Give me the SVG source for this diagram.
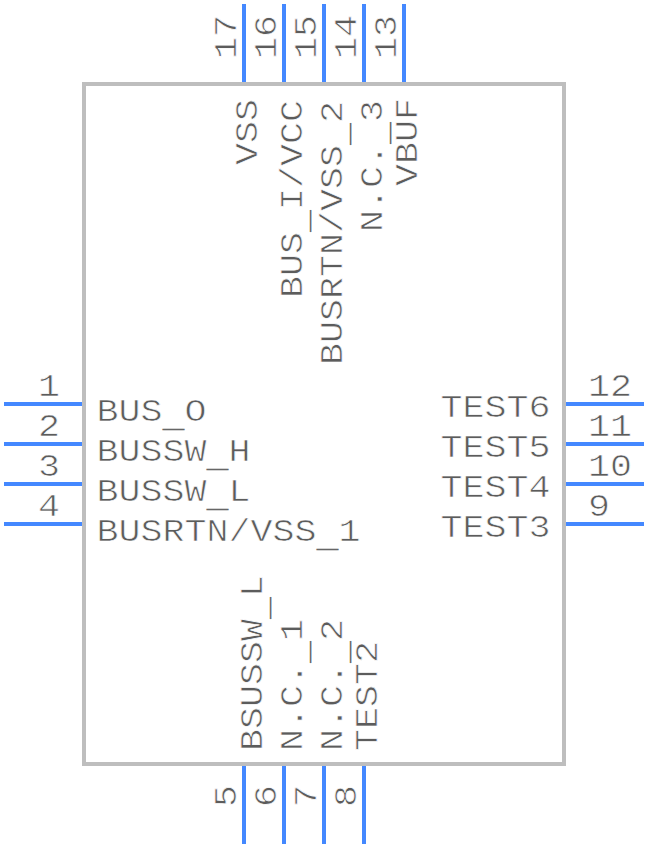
<svg xmlns="http://www.w3.org/2000/svg" width="648" height="848" viewBox="0 0 648 848">
<style>
text{font-family:"Liberation Mono",monospace;font-size:36.67px;fill:#5c5c5c;stroke:#fff;stroke-width:.75px}
.u{stroke:none;fill:#666}
.p{stroke:#4488ff;stroke-width:4;fill:none}
</style>
<rect width="648" height="848" fill="#fff"/>
<g id="body"><rect x="84" y="84" width="480" height="680" fill="#fff" stroke="#bebebe" stroke-width="4"/></g>
<g id="connectors">
<path class="p" d="M4 404H82M4 444H82M4 484H82M4 524H82M566 404H644M566 444H644M566 484H644M566 524H644M244 4V82M284 4V82M324 4V82M364 4V82M404 4V82M244 766V844M284 766V844M324 766V844M364 766V844"/>
</g>
<g id="left-pins">
<text transform="translate(38 396) scale(1 .85)">1</text><text transform="translate(38 436) scale(1 .85)">2</text><text transform="translate(38 476) scale(1 .85)">3</text><text transform="translate(38 516) scale(1 .85)">4</text>
<text transform="translate(96.5 421) scale(1 .83)">BUS<tspan class="u" dy="7">_</tspan><tspan dy="-7">O</tspan></text><text transform="translate(96.5 461) scale(1 .83)">BUSSW<tspan class="u" dy="7">_</tspan><tspan dy="-7">H</tspan></text><text transform="translate(96.5 501) scale(1 .83)">BUSSW<tspan class="u" dy="7">_</tspan><tspan dy="-7">L</tspan></text><text transform="translate(96.5 541) scale(1 .83)">BUSRTN/VSS<tspan class="u" dy="7">_</tspan><tspan dy="-7">1</tspan></text>
</g>
<g id="right-pins">
<text transform="translate(588 396) scale(1 .85)">12</text><text transform="translate(588 436) scale(1 .85)">11</text><text transform="translate(588 476) scale(1 .85)">10</text><text transform="translate(588 516) scale(1 .85)">9</text>
<text transform="translate(440.5 417) scale(1 .83)">TEST6</text><text transform="translate(440.5 457) scale(1 .83)">TEST5</text><text transform="translate(440.5 497) scale(1 .83)">TEST4</text><text transform="translate(440.5 537) scale(1 .83)">TEST3</text>
</g>
<g id="top-pins">
<text transform="translate(236 59) rotate(-90) scale(1 .85)">17</text><text transform="translate(276 59) rotate(-90) scale(1 .85)">16</text><text transform="translate(316 59) rotate(-90) scale(1 .85)">15</text><text transform="translate(356 59) rotate(-90) scale(1 .85)">14</text><text transform="translate(396 59) rotate(-90) scale(1 .85)">13</text>
<text transform="translate(257 165) rotate(-90) scale(1 .83)">VSS</text><text transform="translate(302 298) rotate(-90) scale(1 .83)">BUS<tspan class="u" dy="7">_</tspan><tspan dy="-7">I/VCC</tspan></text><text transform="translate(342 365) rotate(-90) scale(1 .83)">BUSRTN/VSS<tspan class="u" dy="7">_</tspan><tspan dy="-7">2</tspan></text><text transform="translate(382 232) rotate(-90) scale(1 .83)">N.C.<tspan class="u" dy="7">_</tspan><tspan dy="-7">3</tspan></text><text transform="translate(417 186) rotate(-90) scale(1 .83)">VBUF</text>
</g>
<g id="bottom-pins">
<text transform="translate(236 807) rotate(-90) scale(1 .85)">5</text><text transform="translate(276 807) rotate(-90) scale(1 .85)">6</text><text transform="translate(316 807) rotate(-90) scale(1 .85)">7</text><text transform="translate(356 807) rotate(-90) scale(1 .85)">8</text>
<text transform="translate(262 751) rotate(-90) scale(1 .83)">BSUSSW<tspan class="u" dy="7">_</tspan><tspan dy="-7">L</tspan></text><text transform="translate(302 751) rotate(-90) scale(1 .83)">N.C.<tspan class="u" dy="7">_</tspan><tspan dy="-7">1</tspan></text><text transform="translate(342 751) rotate(-90) scale(1 .83)">N.C.<tspan class="u" dy="7">_</tspan><tspan dy="-7">2</tspan></text><text transform="translate(377 751) rotate(-90) scale(1 .83)">TEST2</text>
</g>
</svg>
